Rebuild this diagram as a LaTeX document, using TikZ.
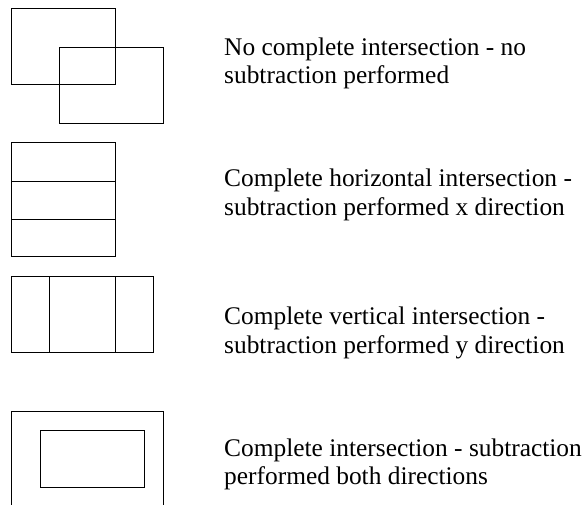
\documentclass[tikz,border=0pt]{standalone}
\usepackage{fontspec}
\setmainfont{Liberation Serif}
\begin{document}
\begin{tikzpicture}[x=1pt,y=-1pt,
  box/.style={draw=black,line width=0.8pt},
  caption/.style={anchor=base west,inner sep=0pt,font=\fontsize{25.4}{28.3}\selectfont}]
\useasboundingbox (0,0) rectangle (587,504);
\clip (0,0) rectangle (587,504);

% overlapping rectangles: no complete intersection
\draw[box] (11,8.3) rectangle (115.7,84);
\draw[box] (59,47) rectangle (163.3,123.3);

% horizontal strips
\draw[box] (11,142.7) rectangle (115.7,256.7);
\draw[box] (11,181) -- (115.7,181);
\draw[box] (11,219.3) -- (115.7,219.3);

% vertical strips
\draw[box] (11,276.3) rectangle (153.7,352.7);
\draw[box] (49.7,276.3) -- (49.7,352.7);
\draw[box] (115.7,276.3) -- (115.7,352.7);

% nested rectangles
\draw[box] (11,411.7) rectangle (163.3,520);
\draw[box] (40.3,430.3) rectangle (144.3,487);

% captions
\node[caption] (c1a) at (224,55.5) {No complete intersection - no};
\node[caption] (c1b) at (224,83.8) {subtraction performed};
\node[caption] (c2a) at (224,186.7) {Complete horizontal intersection -};
\node[caption] (c2b) at (224,215) {subtraction performed x direction};
\node[caption] (c3a) at (224,324.5) {Complete vertical intersection -};
\node[caption] (c3b) at (224,353) {subtraction performed y direction};
\node[caption] (c4a) at (224,456.5) {Complete intersection - subtraction};
\node[caption] (c4b) at (224,484.5) {performed both directions};
\end{tikzpicture}
\end{document}
